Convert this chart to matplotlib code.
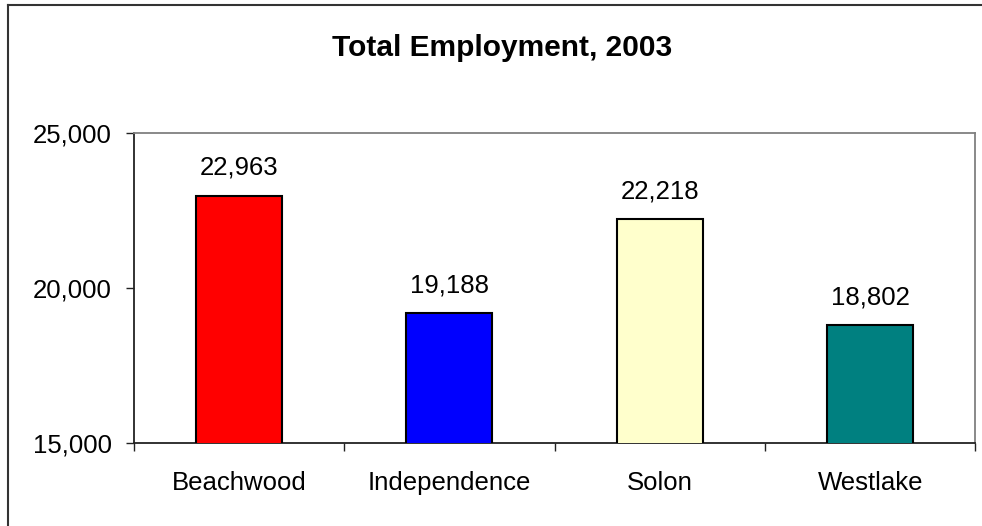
import matplotlib
matplotlib.use("Agg")
import matplotlib.pyplot as plt
from matplotlib.lines import Line2D

plt.rcParams['font.family'] = ['Liberation Sans', 'DejaVu Sans']

categories = ["Beachwood", "Independence", "Solon", "Westlake"]
values = [22963, 19188, 22218, 18802]
colors = ["#FF0000", "#0000FF", "#FFFFCC", "#008080"]
yticks = [15000, 20000, 25000]
title = "Total Employment, 2003"

W, H = 982, 526
fig = plt.figure(figsize=(W / 100, H / 100), dpi=100)

# plot area in pixels
left, right, top, bottom = 133.5, 975.5, 133.0, 443.3
ax = fig.add_axes([left / W, 1 - bottom / H, (right - left) / W, (bottom - top) / H])

x = list(range(len(categories)))
ax.bar(x, values, width=0.41, color=colors, edgecolor="black", linewidth=1.5, bottom=0,
       zorder=3)
ax.set_xlim(-0.5, len(categories) - 0.5)
ax.set_ylim(yticks[0], yticks[-1])

ax.set_yticks(yticks)
ax.set_yticklabels([f"{v:,}" for v in yticks])
ax.set_xticks([i - 0.5 for i in range(len(categories) + 1)])
ax.set_xticklabels([])
ax.set_xticks(x, minor=True)
ax.set_xticklabels(categories, minor=True)

ax.tick_params(axis='y', direction='out', length=5.5, width=1, color='#222222',
               labelsize=18.5, pad=10)
ax.tick_params(axis='x', which='major', direction='out', length=6, width=1, color='#222222')
ax.tick_params(axis='x', which='minor', length=0, labelsize=18.5, pad=20)

for s in ['left', 'bottom']:
    ax.spines[s].set_color('#222222')
    ax.spines[s].set_linewidth(1.3)
for s in ['top', 'right']:
    ax.spines[s].set_color('#808080')
    ax.spines[s].set_linewidth(1.3)

for xi, v in zip(x, values):
    ax.annotate(f"{v:,}", (xi, v), xytext=(0, 15.3), textcoords='offset points',
                ha='center', va='baseline', fontsize=18.5)

fig.text(501.7 / W, 1 - 56.5 / H, title, ha='center', va='baseline',
         fontsize=21.5, fontweight='bold')

# outer chart frame (left and top edges visible)
fig.add_artist(Line2D([8 / W, 8 / W], [0, 1 - 5 / H], transform=fig.transFigure,
                      color='#333333', linewidth=1.5))
fig.add_artist(Line2D([8 / W, 1], [1 - 5 / H, 1 - 5 / H], transform=fig.transFigure,
                      color='#333333', linewidth=1.5))

fig.savefig("out.png", dpi=100)
